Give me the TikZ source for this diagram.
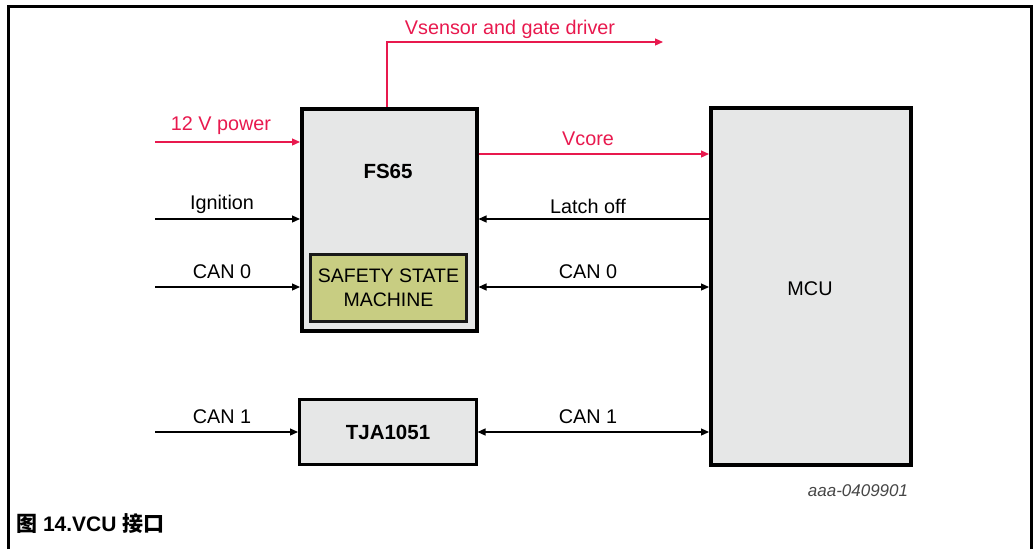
\documentclass[tikz,border=0pt]{standalone}
\usepackage{fontspec}
\setmainfont{Liberation Sans}
\newfontfamily\cjk{Noto Sans CJK SC}
\usetikzlibrary{arrows.meta}
\definecolor{boxgray}{RGB}{230,231,231}
\definecolor{ssmolive}{RGB}{200,205,130}
\definecolor{pwrred}{RGB}{232,25,78}
\definecolor{idgray}{RGB}{70,70,70}
\tikzset{
  blk/.style={draw=black, fill=boxgray, line width=3.5pt, anchor=north west, inner sep=0pt},
  ssm/.style={draw=black!90, fill=ssmolive, line width=3pt, anchor=north west, inner sep=0pt},
  lbl/.style={inner sep=0pt, font=\fontsize{19.8}{23}\selectfont},
  blbl/.style={inner sep=0pt, font=\fontsize{20.5}{24}\selectfont\bfseries},
  sig/.style={line width=1.2pt, -{Triangle[length=8pt,width=7pt]}},
  bisig/.style={line width=1.2pt, {Triangle[length=8pt,width=7pt]}-{Triangle[length=8pt,width=7pt]}},
  pwr/.style={sig, draw=pwrred},
}
\begin{document}
\begin{tikzpicture}[x=1pt,y=-1pt]
\useasboundingbox (0,0) rectangle (1033,549);
% outer frame
\draw[line width=3pt] (8,549) -- (8,6) -- (1031,6) -- (1031,549);
% blocks
\node[blk, minimum width=175pt, minimum height=222pt] (fs) at (300,107) {};
\node[ssm, minimum width=156pt, minimum height=67pt] (ssm) at (309,253) {};
\node[blk, line width=2.5pt, minimum width=177pt, minimum height=65pt] (tja) at (298,398) {};
\node[blk, minimum width=200pt, minimum height=357pt] (mcu) at (709,106) {};
% block labels
\node[blbl] (fsl) at (388,171) {FS65};
\node[lbl, align=center, font=\fontsize{19.5}{24}\selectfont] (ssml) at (ssm.center) {SAFETY STATE\\MACHINE};
\node[blbl] (tjal) at (388,432) {TJA1051};
\node[lbl] (mcul) at (810,289) {MCU};
% free ends
\coordinate (p12) at (155,142);
\coordinate (ign) at (155,219);
\coordinate (c0) at (155,287);
\coordinate (c1) at (155,432);
\coordinate (vs) at (663,42);
% power connectors
\draw[pwr] (p12) -- (p12 -| fs.west);
\draw[pwr] (fs.north -| 387,0) |- (vs);
\draw[pwr] (fs.east |- 0,154) -- (mcu.west |- 0,154);
% signal connectors
\draw[sig] (ign) -- (ign -| fs.west);
\draw[sig] (c0) -- (c0 -| fs.west);
\draw[sig] (c1) -- (c1 -| tja.west);
\draw[sig] (mcu.west |- 0,219) -- (fs.east |- 0,219);
\draw[bisig] (fs.east |- 0,287) -- (mcu.west |- 0,287);
\draw[bisig] (tja.east |- 0,432) -- (mcu.west |- 0,432);
% connector labels
\node[lbl, text=pwrred] (l12) at (221,126) {12 V power};
\node[lbl, text=pwrred] (lvs) at (510,29) {Vsensor and gate driver};
\node[lbl, text=pwrred] (lvc) at (588,139) {Vcore};
\node[lbl] (lign) at (222,204) {Ignition};
\node[lbl] (lc0a) at (222,272) {CAN 0};
\node[lbl] (lc1a) at (222,417) {CAN 1};
\node[lbl] (llo) at (588,206) {Latch off};
\node[lbl] (lc0b) at (588,272) {CAN 0};
\node[lbl] (lc1b) at (588,417) {CAN 1};
% id and caption
\node[lbl, text=idgray, font=\fontsize{17}{19}\selectfont\itshape] (aid) at (858,491) {aaa-0409901};
\node[inner sep=0pt, anchor=west, font=\fontsize{21}{24}\selectfont\bfseries] (cap) at (16,524) {{\cjk\bfseries 图} 14.VCU {\cjk\bfseries 接口}};
\end{tikzpicture}
\end{document}
